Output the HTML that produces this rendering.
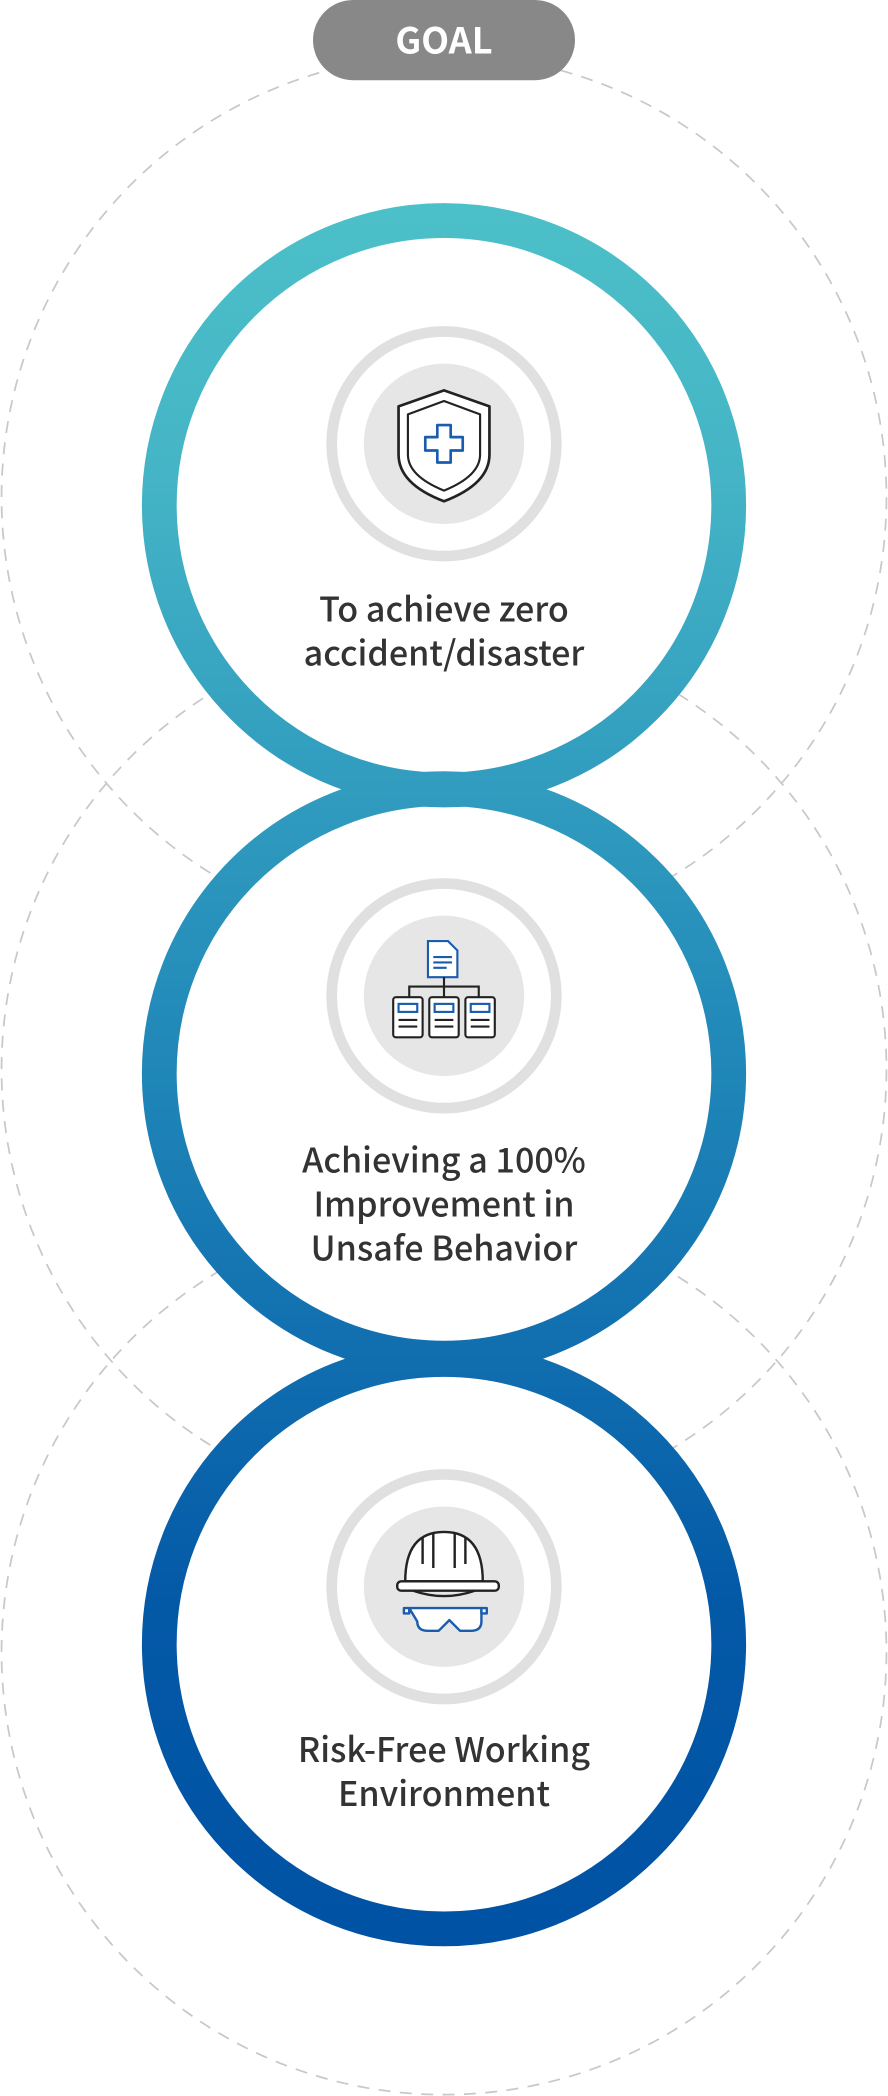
<!DOCTYPE html>
<html><head><meta charset="utf-8"><style>
html,body{margin:0;padding:0;background:#fff;}
svg{display:block;}
text{font-family:"Noto Sans CJK KR","Liberation Sans",sans-serif;}
</style></head><body>
<svg width="888" height="2096" viewBox="0 0 664 1568" xmlns="http://www.w3.org/2000/svg">
<defs>
<linearGradient id="g" gradientUnits="userSpaceOnUse" x1="0" y1="150" x2="0" y2="1460">
<stop offset="0" stop-color="#4cc0c8"/>
<stop offset="0.15" stop-color="#45b5c6"/>
<stop offset="0.5" stop-color="#1f86b8"/>
<stop offset="0.8" stop-color="#0459a7"/>
<stop offset="1" stop-color="#0052a4"/>
</linearGradient>
</defs>
<g fill="none" stroke="#c8c8c8" stroke-width="1.3" stroke-dasharray="9 7">
<circle cx="332" cy="372" r="331"/>
<circle cx="332" cy="800" r="331"/>
<circle cx="332" cy="1236" r="331"/>
</g>
<rect x="234" y="0" width="196" height="60" rx="30" fill="#888"/>
<text x="332" y="40" text-anchor="middle" font-size="27" font-weight="bold" fill="#fff">GOAL</text>
<g fill="#fff">
<circle cx="332" cy="378" r="226"/>
<circle cx="332" cy="803" r="226"/>
<circle cx="332" cy="1230" r="226"/>
</g>
<g fill="none" stroke="url(#g)" stroke-width="26">
<circle cx="332" cy="1230" r="213"/>
<circle cx="332" cy="803" r="213"/>
<circle cx="332" cy="378" r="213"/>
</g>
<g>
<circle cx="332" cy="332" r="84" fill="none" stroke="#e0e0e0" stroke-width="8"/>
<circle cx="332" cy="332" r="60" fill="#e6e6e6"/>
<circle cx="332" cy="745" r="84" fill="none" stroke="#e0e0e0" stroke-width="8"/>
<circle cx="332" cy="745" r="60" fill="#e6e6e6"/>
<circle cx="332" cy="1187" r="84" fill="none" stroke="#e0e0e0" stroke-width="8"/>
<circle cx="332" cy="1187" r="60" fill="#e6e6e6"/>
</g>
<g fill="none" stroke-linejoin="round">
<path d="M332 292 L366 304 L366 340 Q366 362 332 375 Q298 362 298 340 L298 304 Z" fill="#fff" stroke="#222" stroke-width="2"/>
<path d="M332 300 L359 310 L359 340 Q359 356 332 367 Q305 356 305 340 L305 310 Z" stroke="#222" stroke-width="1.6"/>
<path d="M327 318 h10 v9 h9 v10 h-9 v9 h-10 v-9 h-9 v-10 h9 Z" stroke="#1a5cae" stroke-width="2" fill="#fff"/>
</g>
<g fill="#fff" stroke="#222" stroke-width="1.6">
<path d="M320 704 h15 l7 7 v20 h-22 Z" stroke="#1a5cae"/>
<line x1="324" y1="716" x2="338" y2="716" stroke="#1a5cae"/>
<line x1="324" y1="720" x2="338" y2="720" stroke="#1a5cae"/>
<line x1="324" y1="724" x2="334" y2="724" stroke="#1a5cae"/>
<path d="M332 731 v7 M306 746 v-8 h52 v8 M332 738 v8" fill="none"/>
<rect x="294" y="746" width="22" height="30" rx="2"/>
<rect x="321" y="746" width="22" height="30" rx="2"/>
<rect x="348" y="746" width="22" height="30" rx="2"/>
<rect x="298" y="751" width="14" height="6" stroke="#1a5cae"/>
<rect x="325" y="751" width="14" height="6" stroke="#1a5cae"/>
<rect x="352" y="751" width="14" height="6" stroke="#1a5cae"/>
<path d="M298 763h14M298 768h14M325 763h14M325 768h14M352 763h14M352 768h14" fill="none"/>
</g>
<g fill="#fff" stroke="#222" stroke-width="1.8" stroke-linejoin="round">
<path d="M303 1183 Q303 1146 332 1146 Q361 1146 361 1183 Z"/>
<path d="M324 1147 v26 M340 1147 v26 M316 1150 v20 M348 1150 v20" fill="none"/>
<rect x="297" y="1183" width="76" height="7" rx="3"/>
<path d="M309 1190 Q332 1198 355 1190" fill="none"/>
<path d="M306 1203 h54 v10 q0 7 -8 7 h-8 l-8 -8 l-8 8 h-8 q-8 0 -8 -7 h0 Z" stroke="#1a5cae"/>
<path d="M302 1203 h4 v4 h-4 Z M360 1203 h4 v4 h-4 Z" stroke="#1a5cae"/>
</g>
<g font-size="25.5" font-weight="500" fill="#333" text-anchor="middle">
<text x="332" y="465">To achieve zero</text>
<text x="332" y="498">accident/disaster</text>
<text x="332" y="877">Achieving a 100%</text>
<text x="332" y="910">Improvement in</text>
<text x="332" y="943">Unsafe Behavior</text>
<text x="332" y="1318">Risk-Free Working</text>
<text x="332" y="1351">Environment</text>
</g>
</svg>
</body></html>
